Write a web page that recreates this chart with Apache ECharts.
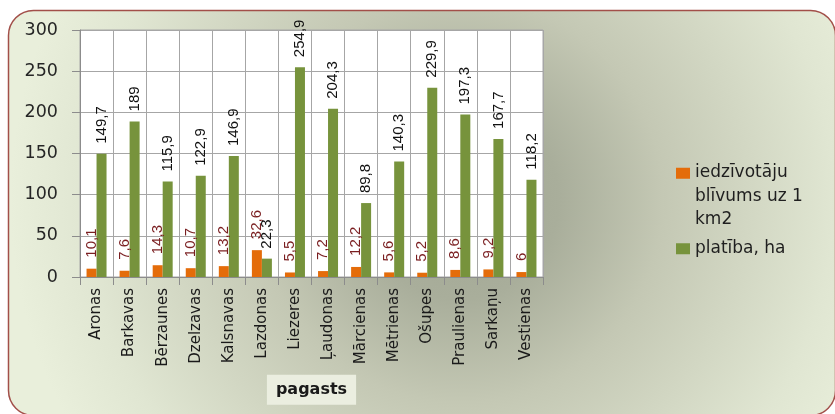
<!DOCTYPE html>
<html>
<head>
<meta charset="utf-8">
<script src="https://cdn.jsdelivr.net/npm/echarts@6/dist/echarts.min.js"></script>
<style>
html,body{margin:0;padding:0;background:#fff;}
#chart{width:835px;height:414px;}
</style>
</head>
<body>
<div id="chart"></div>
<script>
const categories = ['Aronas','Barkavas','Bērzaunes','Dzelzavas','Kalsnavas','Lazdonas','Liezeres','Ļaudonas','Mārcienas','Mētrienas','Ošupes','Praulienas','Sarkaņu','Vestienas'];
const density = [10.1, 7.6, 14.3, 10.7, 13.2, 32.6, 5.5, 7.2, 12.2, 5.6, 5.2, 8.6, 9.2, 6];
const area = [149.7, 189, 115.9, 122.9, 146.9, 22.3, 254.9, 204.3, 89.8, 140.3, 229.9, 197.3, 167.7, 118.2];
const seriesNames = ['iedzīvotāju blīvums uz 1 km2', 'platība, ha'];
const yTicks = [0, 50, 100, 150, 200, 250, 300];
const axisTitle = 'pagasts';

const chart = echarts.init(document.getElementById('chart'), null, {renderer: 'canvas'});
const fmt = p => String(p.value).replace('.', ',');
const labelFont = '"Liberation Sans", sans-serif';
const mainFont = '"DejaVu Sans", sans-serif';
const legendText = {fontFamily: mainFont, fontSize: 17, color: '#1f1f1f', lineHeight: 23.5};

chart.setOption({
  animation: false,
  textStyle: {fontFamily: mainFont},
  graphic: [{
    type: 'rect',
    z: -10,
    silent: true,
    shape: {x: 8.5, y: 10.5, width: 827, height: 405, r: 25},
    style: {
      fill: {
        type: 'radial', x: 460, y: 200, r: 450, global: true,
        colorStops: [
          {offset: 0, color: '#a0a592'},
          {offset: 0.22, color: '#a9ae9b'},
          {offset: 0.45, color: '#c4c8b4'},
          {offset: 0.83, color: '#e0e6d2'},
          {offset: 1, color: '#e9efdb'}
        ]
      },
      stroke: '#a24f49',
      lineWidth: 1.5
    }
  }],
  legend: [{
    orient: 'vertical',
    left: 676,
    top: 161,
    padding: 0,
    itemWidth: 14,
    itemHeight: 70.5,
    selectedMode: false,
    textStyle: legendText,
    data: [{name: seriesNames[0], icon: 'path://M0,0L14,0M0,6.75L14,6.75L14,17.75L0,17.75ZM0,70.5L14,70.5'}],
    formatter: () => 'iedzīvotāju\nblīvums uz 1\nkm2'
  }, {
    orient: 'vertical',
    left: 676,
    top: 237,
    padding: 0,
    itemWidth: 14,
    itemHeight: 11,
    icon: 'rect',
    selectedMode: false,
    textStyle: legendText,
    data: [seriesNames[1]]
  }],
  grid: {
    left: 80, right: 292, top: 30, bottom: 137,
    outerBoundsMode: 'none',
    show: true, backgroundColor: '#ffffff', borderColor: '#a6a6a6', borderWidth: 1
  },
  xAxis: {
    type: 'category',
    data: categories,
    name: axisTitle,
    nameLocation: 'middle',
    nameGap: 96,
    nameTextStyle: {
      fontFamily: mainFont, fontSize: 16, fontWeight: 'bold', color: '#1a1a1a',
      backgroundColor: '#ebeee0', padding: [5, 9, 5, 9], lineHeight: 20,
      verticalAlign: 'top'
    },
    axisLine: {lineStyle: {color: '#8c8c8c', width: 1}},
    axisTick: {show: true, length: 8, lineStyle: {color: '#8c8c8c'}},
    splitLine: {show: true, lineStyle: {color: '#a6a6a6', width: 1}},
    axisLabel: {rotate: 90, margin: 11, fontSize: 15, color: '#1a1a1a', fontFamily: mainFont, interval: 0}
  },
  yAxis: {
    type: 'value',
    min: yTicks[0], max: yTicks[yTicks.length - 1], interval: 50,
    axisLine: {show: true, lineStyle: {color: '#8c8c8c'}},
    axisTick: {show: true, length: 8, lineStyle: {color: '#8c8c8c'}},
    splitLine: {show: true, lineStyle: {color: '#a6a6a6', width: 1}},
    axisLabel: {margin: 8, padding: [0, 14, 0, 0], align: 'right', fontSize: 17.5, color: '#262626', fontFamily: mainFont}
  },
  series: [
    {
      name: seriesNames[0],
      type: 'bar',
      data: density,
      barWidth: 10,
      barGap: '0%',
      itemStyle: {color: '#e46c0a'},
      label: {
        show: true, position: 'top', rotate: 90, align: 'left', verticalAlign: 'middle',
        distance: 11, formatter: fmt, fontFamily: labelFont, fontSize: 15, color: '#7a1e20'
      }
    },
    {
      name: seriesNames[1],
      type: 'bar',
      data: area,
      barWidth: 10,
      barGap: '0%',
      itemStyle: {color: '#77933c'},
      label: {
        show: true, position: 'top', rotate: 90, align: 'left', verticalAlign: 'middle',
        distance: 10, formatter: fmt, fontFamily: labelFont, fontSize: 15, color: '#111111'
      }
    }
  ]
});
</script>
</body>
</html>
